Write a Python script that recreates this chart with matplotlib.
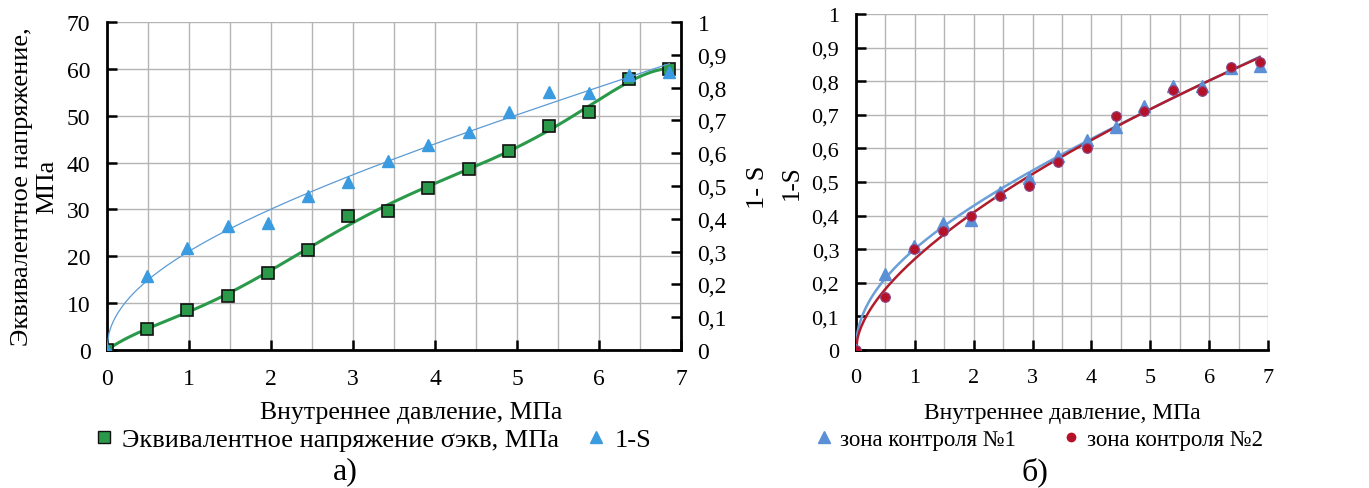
import numpy as np
import matplotlib
matplotlib.use("Agg")
import matplotlib.pyplot as plt
from matplotlib.ticker import MultipleLocator, FuncFormatter
from matplotlib.lines import Line2D

plt.rcParams['font.family'] = ['Liberation Serif', 'DejaVu Serif']

# давление, МПа
pressure = [0, 0.49, 0.98, 1.47, 1.96, 2.45, 2.94, 3.43, 3.92, 4.41, 4.90, 5.39, 5.88, 6.37, 6.86]
# эквивалентное напряжение, МПа
stress = [0, 4.5, 8.5, 11.5, 16.4, 21.3, 28.7, 29.6, 34.6, 38.7, 42.5, 47.9, 50.8, 57.8, 60.0]
# 1-S, зона контроля №1 (то же, что на рис. а)
zone1 = [0, 0.227, 0.31, 0.377, 0.388, 0.470, 0.513, 0.576, 0.624, 0.664, 0.726, 0.787, 0.785, 0.838, 0.846]
# 1-S, зона контроля №2
zone2 = [0, 0.157, 0.30, 0.355, 0.398, 0.459, 0.489, 0.560, 0.601, 0.697, 0.712, 0.775, 0.771, 0.843, 0.858]

GRID = '#b4b4b4'


def comma(v, pos):
    s = f"{v:.1f}".rstrip('0').rstrip('.')
    return s.replace('.', ',')


def trend(x, y, deg):
    c = np.polyfit(x, y, deg)
    xs = np.linspace(0, max(x), 300)
    return xs, np.polyval(c, xs)


def trend_sqrt(x, y, deg):
    # полином по корню из давления - крутой подъём в начале
    c = np.polyfit(np.sqrt(x), y, deg)
    xs = np.linspace(0, max(x), 300)
    return xs, np.polyval(c, np.sqrt(xs))


def style_axis(ax, labelsize):
    ax.set_xlim(0, 7)
    ax.xaxis.set_major_locator(MultipleLocator(1))
    ax.xaxis.set_minor_locator(MultipleLocator(0.5))
    ax.grid(True, which='both', axis='x', color=GRID, lw=1)
    ax.grid(True, which='major', axis='y', color=GRID, lw=1)
    ax.tick_params(which='major', direction='in', length=7, width=1.8, labelsize=labelsize)
    ax.tick_params(axis='x', pad=13)
    ax.tick_params(axis='y', pad=12)
    ax.tick_params(which='minor', length=0)
    for s in ['top', 'right']:
        ax.spines[s].set_visible(False)
    for s in ['left', 'bottom']:
        ax.spines[s].set_linewidth(2)
    ax.set_axisbelow(True)


fig = plt.figure(figsize=(13.69, 4.89), dpi=100)

# ---- а) ----
ax1 = fig.add_axes([0.0782, 0.2822, 0.4192, 0.6708])
style_axis(ax1, 17)
ax1.set_ylim(0, 70)
ax1.yaxis.set_major_locator(MultipleLocator(10))
ax1.set_ylabel("Эквивалентное напряжение,\nМПа", fontsize=19, linespacing=1.2)
ax1.yaxis.set_label_coords(-0.085, 0.5)

ax2 = ax1.twinx()
ax2.set_ylim(0, 1)
ax2.yaxis.set_major_locator(MultipleLocator(0.1))
ax2.yaxis.set_major_formatter(FuncFormatter(comma))
ax2.tick_params(direction='in', length=7, width=1.8, labelsize=17, pad=12)
for s in ['top', 'left', 'bottom']:
    ax2.spines[s].set_visible(False)
ax2.spines['right'].set_linewidth(2)
ax2.set_ylabel("1- S", fontsize=19, labelpad=14)

xs, ys = trend(pressure, stress, 6)
ax1.plot(xs, ys, color='#2a9a4a', lw=2.2, zorder=3)
ax1.plot(pressure, stress, 's', ms=9, mfc='#2a9a4a', mec='#111111', mew=1.2, zorder=4, ls='none')
xs, ys = trend_sqrt(pressure, zone1, 3)
ax2.plot(xs, ys, color='#5b9bd5', lw=0.9, zorder=3)
ax2.plot(pressure, zone1, '^', ms=9, color='#3a9be0', mec='#3a9be0', zorder=4, ls='none')
ax1.set_xlabel("Внутреннее давление, МПа", fontsize=18.5)
ax1.xaxis.set_label_coords(0.53, -0.155)

h1 = [Line2D([], [], ls='none', marker='s', ms=8, mfc='#2a9a4a', mec='#111111'),
      Line2D([], [], ls='none', marker='^', ms=9, color='#3a9be0')]
fig.legend(h1, ["Эквивалентное напряжение σэкв, МПа", "1-S"], loc='center',
           bbox_to_anchor=(0.272, 0.10), ncol=2, frameon=False, fontsize=19,
           handlelength=0.8, handletextpad=0.3, columnspacing=1.0)
fig.text(0.252, 0.035, "а)", fontsize=23, ha='center', va='center')

# ---- б) ----
ax3 = fig.add_axes([0.6253, 0.2822, 0.3009, 0.6871])
style_axis(ax3, 16)
ax3.set_ylim(0, 1)
ax3.yaxis.set_major_locator(MultipleLocator(0.1))
ax3.yaxis.set_major_formatter(FuncFormatter(comma))
ax3.set_ylabel("1-S", fontsize=18, labelpad=6)

xs, ys = trend_sqrt(pressure, zone1, 3)
ax3.plot(xs, ys, color='#6a9fd8', lw=1.8, zorder=3)
ax3.plot(pressure, zone1, '^', ms=9, color='#5b8fd6', zorder=4, ls='none')
xs, ys = trend_sqrt(pressure, zone2, 3)
ax3.plot(xs, ys, color='#b01c2c', lw=1.8, zorder=3)
ax3.plot(pressure, zone2, 'o', ms=7, color='#b5122a', mec='#8a4a8a', mew=0.8, zorder=4, ls='none')
ax3.set_xlabel("Внутреннее давление, МПа", fontsize=17)
ax3.xaxis.set_label_coords(0.5, -0.155)

h2 = [Line2D([], [], ls='none', marker='^', ms=9, color='#5b8fd6'),
      Line2D([], [], ls='none', marker='o', ms=6, color='#b5122a')]
fig.legend(h2, ["зона контроля №1", "зона контроля №2"], loc='center',
           bbox_to_anchor=(0.759, 0.10), ncol=2, frameon=False, fontsize=16.5,
           handlelength=0.8, handletextpad=0.3, columnspacing=2.0)
fig.text(0.756, 0.035, "б)", fontsize=23, ha='center', va='center')

fig.savefig("out.png", dpi=100)
